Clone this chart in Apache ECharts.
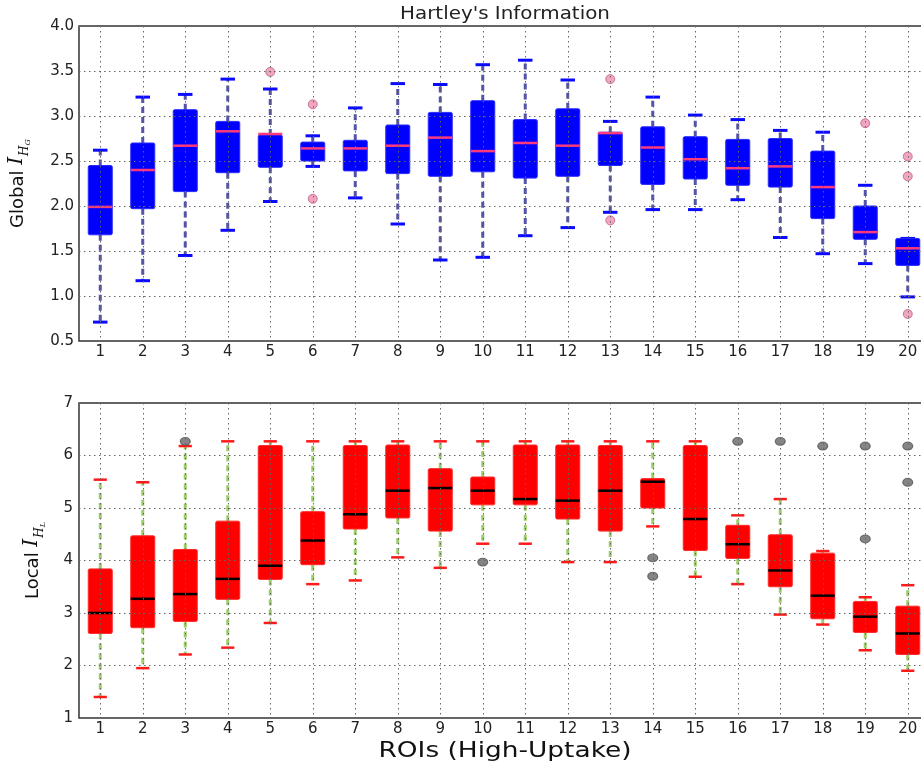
<!DOCTYPE html>
<html lang="en">
<head>
<meta charset="UTF-8">
<script src="https://cdn.jsdelivr.net/npm/echarts@6/dist/echarts.min.js"></script>
<style>
  html, body { margin: 0; padding: 0; background: #fff; }
  #main { width: 921px; height: 766px; }
</style>
</head>
<body>
<div id="main"></div>
<script>
// ROI numbers on the x axis
var rois = [1, 2, 3, 4, 5, 6, 7, 8, 9, 10, 11, 12, 13, 14, 15, 16, 17, 18, 19, 20];

// Global I_HG (top panel): whisker low, Q1, median, Q3, whisker high
var globalLow  = [0.71, 1.17, 1.45, 1.73, 2.05, 2.44, 2.09, 1.80, 1.40, 1.43, 1.67, 1.76, 1.93, 1.96, 1.96, 2.07, 1.65, 1.47, 1.36, 0.99];
var globalQ1   = [1.68, 1.97, 2.16, 2.37, 2.43, 2.50, 2.39, 2.36, 2.33, 2.38, 2.31, 2.33, 2.45, 2.24, 2.30, 2.23, 2.21, 1.86, 1.63, 1.34];
var globalMed  = [1.99, 2.40, 2.67, 2.83, 2.80, 2.64, 2.64, 2.67, 2.76, 2.61, 2.70, 2.67, 2.81, 2.65, 2.52, 2.42, 2.44, 2.21, 1.71, 1.53];
var globalQ3   = [2.45, 2.70, 3.07, 2.94, 2.79, 2.71, 2.73, 2.90, 3.04, 3.17, 2.96, 3.08, 2.82, 2.88, 2.77, 2.74, 2.75, 2.61, 2.00, 1.64];
var globalHigh = [2.62, 3.21, 3.24, 3.41, 3.30, 2.78, 3.09, 3.36, 3.35, 3.57, 3.62, 3.40, 2.94, 3.21, 3.01, 2.96, 2.84, 2.82, 2.23, 1.64];
// outliers as [roi, value]
var globalOutliers = [[5, 3.49], [6, 3.13], [6, 2.08], [13, 3.41], [13, 1.84], [19, 2.92], [20, 2.55], [20, 2.33], [20, 0.80]];

// Local I_HL (bottom panel)
var localLow  = [1.40, 1.95, 2.21, 2.34, 2.81, 3.55, 3.62, 4.06, 3.86, 4.32, 4.32, 3.97, 3.97, 4.65, 3.69, 3.55, 2.97, 2.78, 2.29, 1.90];
var localQ1   = [2.61, 2.72, 2.84, 3.26, 3.64, 3.92, 4.60, 4.81, 4.56, 5.06, 5.06, 4.79, 4.56, 5.00, 4.19, 4.04, 3.50, 2.89, 2.63, 2.21];
var localMed  = [3.00, 3.27, 3.36, 3.65, 3.90, 4.38, 4.88, 5.33, 5.38, 5.33, 5.17, 5.14, 5.33, 5.50, 4.79, 4.31, 3.81, 3.33, 2.93, 2.61];
var localQ3   = [3.84, 4.47, 4.21, 4.75, 6.19, 4.93, 6.19, 6.20, 5.75, 5.59, 6.20, 6.20, 6.19, 5.56, 6.19, 4.67, 4.49, 4.14, 3.22, 3.13];
var localHigh = [5.54, 5.49, 6.18, 6.27, 6.27, 6.27, 6.27, 6.27, 6.27, 6.27, 6.27, 6.27, 6.27, 6.27, 6.27, 4.86, 5.17, 4.18, 3.30, 3.53];
var localOutliers = [[3, 6.27], [10, 3.97], [14, 4.05], [14, 3.70], [16, 6.27], [17, 6.27], [18, 6.18], [19, 6.18], [19, 4.41], [20, 6.18], [20, 5.49]];

var yTicksGlobal = [0.5, 4.0];   // min / max of top panel
var yTicksLocal = [1, 7];        // min / max of bottom panel

function boxRows(low, q1, med, q3, high) {
  return rois.map(function (r, i) { return [r, low[i], q1[i], med[i], q3[i], high[i]]; });
}

// draws one matplotlib-style box: dashed whiskers, caps, box, median
function makeBoxRenderer(st) {
  return function (params, api) {
    var x = api.value(0);
    var pLow = api.coord([x, api.value(1)]);
    var pQ1 = api.coord([x, api.value(2)]);
    var pMed = api.coord([x, api.value(3)]);
    var pQ3 = api.coord([x, api.value(4)]);
    var pHigh = api.coord([x, api.value(5)]);
    var band = api.size([1, 0])[0];
    var bw = band * 0.565;
    var cw = band * st.cap;
    var cx = pMed[0];
    return {
      type: 'group',
      children: [
        { type: 'line', shape: { x1: cx, y1: pQ3[1], x2: cx, y2: pHigh[1] },
          style: { stroke: st.whisker, lineWidth: 3, lineDash: [6, 4] } },
        { type: 'line', shape: { x1: cx, y1: pQ1[1], x2: cx, y2: pLow[1] },
          style: { stroke: st.whisker, lineWidth: 3, lineDash: [6, 4] } },
        { type: 'line', shape: { x1: cx - cw / 2, y1: pHigh[1], x2: cx + cw / 2, y2: pHigh[1] },
          style: { stroke: st.capColor, lineWidth: st.capWidth } },
        { type: 'line', shape: { x1: cx - cw / 2, y1: pLow[1], x2: cx + cw / 2, y2: pLow[1] },
          style: { stroke: st.capColor, lineWidth: st.capWidth } },
        { type: 'rect', shape: { x: cx - bw / 2, y: pQ3[1], width: bw, height: pQ1[1] - pQ3[1], r: 1.5 },
          style: { fill: st.box, stroke: st.boxEdge, lineWidth: 1 } },
        { type: 'line', shape: { x1: cx - bw / 2, y1: pMed[1], x2: cx + bw / 2, y2: pMed[1] },
          style: { stroke: st.median, lineWidth: 2.5 } }
      ]
    };
  };
}

var fontMain = 'DejaVu Sans';
var gridLine = { show: true, lineStyle: { color: '#666', width: 1, type: [1.5, 3.5] } };

function xAxisFor(gridIndex) {
  return {
    type: 'value', gridIndex: gridIndex, min: 0.5, max: 20.5, z: 5,
    axisLine: { show: false },
    axisTick: { show: false, customValues: rois },
    axisLabel: { customValues: rois, color: '#222', fontSize: 15, fontFamily: fontMain, margin: 4 },
    splitLine: gridLine
  };
}

var nameRich = {
  n: { fontSize: 18, fontFamily: fontMain, color: '#111', verticalAlign: 'bottom', padding: [0, 0, 5, 0] },
  i: { fontSize: 20, fontFamily: 'DejaVu Serif', fontStyle: 'italic', color: '#111', verticalAlign: 'bottom', padding: [0, 1, 5, 0] },
  s: { fontSize: 12, fontFamily: 'DejaVu Serif', fontStyle: 'italic', color: '#111', verticalAlign: 'bottom', padding: [0, 0, 1, 0] },
  ss: { fontSize: 8, fontFamily: 'DejaVu Serif', fontStyle: 'italic', color: '#111', verticalAlign: 'bottom', padding: [0, 0, 0, 0] }
};

var chart = echarts.init(document.getElementById('main'), null, { renderer: 'canvas' });
chart.setOption({
  backgroundColor: '#fff',
  animation: false,
  graphic: [
    { type: 'text', x: 505, y: 15, originX: 0, originY: 0, scaleX: 1.17,
      style: { text: "Hartley's Information", font: '17px "DejaVu Sans"', fill: '#222', textAlign: 'center', textVerticalAlign: 'middle' } },
    { type: 'text', x: 505, y: 751, originX: 0, originY: 0, scaleX: 1.2,
      style: { text: 'ROIs (High-Uptake)', font: '22px "DejaVu Sans"', fill: '#111', textAlign: 'center', textVerticalAlign: 'middle' } }
  ],
  grid: [
    { left: 79, top: 26, width: 850, height: 315, outerBoundsMode: 'none', show: true, borderColor: '#333', borderWidth: 1.5, backgroundColor: '#fff' },
    { left: 79, top: 403, width: 850, height: 315, outerBoundsMode: 'none', show: true, borderColor: '#333', borderWidth: 1.5, backgroundColor: '#fff' }
  ],
  xAxis: [xAxisFor(0), xAxisFor(1)],
  yAxis: [
    {
      type: 'value', gridIndex: 0, min: yTicksGlobal[0], max: yTicksGlobal[1], interval: 0.5, z: 5,
      name: '{n|Global }{i|I}{s|H}{ss|G}', nameLocation: 'middle', nameGap: 47,
      nameTextStyle: { rich: nameRich },
      axisLine: { show: false }, axisTick: { show: false },
      axisLabel: { color: '#222', fontSize: 15, fontFamily: fontMain, margin: 5,
        formatter: function (v) { return v.toFixed(1); } },
      splitLine: gridLine
    },
    {
      type: 'value', gridIndex: 1, min: yTicksLocal[0], max: yTicksLocal[1], interval: 1, z: 5,
      name: '{n|Local }{i|I}{s|H}{ss|L}', nameLocation: 'middle', nameGap: 32,
      nameTextStyle: { rich: nameRich },
      axisLine: { show: false }, axisTick: { show: false },
      axisLabel: { color: '#222', fontSize: 15, fontFamily: fontMain, margin: 6 },
      splitLine: gridLine
    }
  ],
  series: [
    {
      type: 'custom', name: 'Global', xAxisIndex: 0, yAxisIndex: 0, z: 2,
      renderItem: makeBoxRenderer({ whisker: '#5252a8', capColor: '#0a0aff', capWidth: 3, cap: 0.34,
        box: '#0000ff', boxEdge: '#2a2aff', median: '#ff3a7a' }),
      encode: { x: 0, y: [1, 2, 3, 4, 5] },
      data: boxRows(globalLow, globalQ1, globalMed, globalQ3, globalHigh)
    },
    {
      type: 'scatter', xAxisIndex: 0, yAxisIndex: 0, z: 3, symbolSize: 9,
      itemStyle: { color: '#ec8fb0', borderColor: '#c0608a', borderWidth: 1 },
      data: globalOutliers
    },
    {
      type: 'custom', name: 'Local', xAxisIndex: 1, yAxisIndex: 1, z: 2,
      renderItem: makeBoxRenderer({ whisker: '#9ccc6a', capColor: '#ff1a1a', capWidth: 2.5, cap: 0.31,
        box: '#ff0000', boxEdge: '#ff2a2a', median: '#000000' }),
      encode: { x: 0, y: [1, 2, 3, 4, 5] },
      data: boxRows(localLow, localQ1, localMed, localQ3, localHigh)
    },
    {
      type: 'scatter', xAxisIndex: 1, yAxisIndex: 1, z: 3, symbolSize: [10, 8],
      itemStyle: { color: '#666', borderColor: '#555', borderWidth: 1 },
      data: localOutliers
    }
  ]
});
</script>
</body>
</html>
